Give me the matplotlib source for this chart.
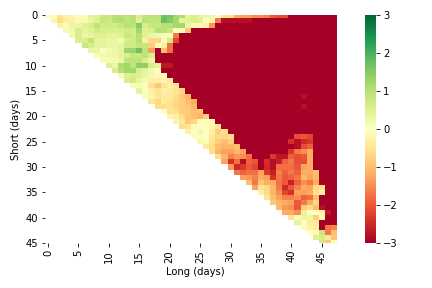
import numpy as np
import matplotlib
matplotlib.use('Agg')
import matplotlib.pyplot as plt

n_rows = 46
n_cols = 48
floor_value = -3

# values read row by row from the diagonal; cells past the end of a list sit at the floor
row_00 = [-.1, -.05, -.55, -.3, -.25, -.1, .1, .4, .5, .8, .8, 1, 1, .9, 1, .6, .9, .9, .9, 1.7, 1.6, 1.2, 1.1, .4, .6, .4, .3, .3, 0, -.5, -.6, -1.2, -1.3, -1.3, -1.5, -1.5, -1.6, -2, -2.1, -2.1]
row_01 = [.15, -.65, -.35, -.3, -.15, .1, .35, .5, .85, .75, 1, 1.05, .9, 1, .5, .95, .9, .9, 1.75, 1.5, 1.2, .4, .5, .6, .5, 0, -.2, -1.7, -2.8, -2.8, -2.8, -2.8, -2.8]
row_02 = [-.3, .05, .3, .3, .5, .6, .9, .7, .7, .7, .8, 1, .9, 1.5, .6, .8, .8, 1, 1, 1.2, 1.2, .3, .1, -.1, -.3, -1.4]
row_03 = [-.2, .2, .6, .4, .5, .7, .6, .6, .6, .6, .7, .7, 1.2, .5, .6, 1, 1, .8, .05, .05, -.9]
row_04 = [.2, .6, .3, .35, .5, .5, .4, .4, .5, .8, .7, 1, .5, .3, .2, .1, .05, -1.7]
row_05 = [.6, .6, .9, .4, .4, .3, .3, .15, .6, .7, 1, -.3, -.7, -.7, .1, .7, -2.2]
row_06 = [.8, .6, .4, .4, .3, .3, .35, .7, .7, .85, .8, -.8, -.05, -.3, -1.8]
row_07 = [.3, .3, 0, .2, .3, .4, 1.3, 1.3, 1.7, .9, -1.3, -3, -1, -1.8]
row_08 = [-.1, .2, .25, .25, .4, .6, .8, .8, .9, .6]
row_09 = [.1, .15, .2, .3, .9, .9, .9, .6, .3]
row_10 = [.5, .3, 1.1, 1.2, .9, 1.4, 1.4, .6, .4, -2.7, -2.7]
row_11 = [.6, 1, 1.2, 1.2, .6, .4, .2, 0]
row_12 = [.15, .5, .6, .5, .35, .2, -.1, 0]
row_13 = [.6, .7, .35, .15, -.3, -.3, -.2, -.4]
row_14 = [.1, .1, .05, -.6, -.9, -.5, -.3, -.5]
row_15 = [.4, .05, -.3, -.5, -.3, -.4, -.5, -.7]
row_16 = [.05, -.2, -.5, -.4, -.4, -.6, -.9, -1.1]
row_17 = [-.5, -.7, -.4, -.5, -.7, -.8, -1, -1.2]
row_18 = [-.6, -.6, -.5, -.7, -.8, -.9, -1.1]
row_19 = [0, -.5, -.5, -.8, -.85, -1, -.9]
row_20 = [-.2, -.3, -.6, -.9, -1, -1.1, -.8]
row_21 = [-.25, -.4, -.9, -.7, -.1, 0, -.1]
row_22 = [-.6, -.5, -.1, 0, 0, -.2, -.5]
row_23 = [-.3, 0, .2, 0, -.3, -.8, -.6]
row_24 = [.05, .05, 0, -.4, -.7, -.7, -.6, -3, -3, -3, -3, -3, -3, -3, -3, -3, -3, -2.1, -2, -2.2]
row_25 = [-.2, -.1, -.5, -.8, -1, -.8, -3, -3, -3, -3, -3, -3, -3, -3, -3, -2.4, -2.8, -2.5, -2.3]
row_26 = [-.4, -.6, -1, -1.1, -1.1, -1, -3, -3, -3, -3, -3, -3, -3, -3, -3, -2.8, -2.1, -1.9]
row_27 = [-.6, -1.1, -1.3, -1.3, -1.1, -1.3, -3, -3, -3, -3, -3, -3, -3, -2.3, -1.7, -1.5, -1.2]
row_28 = [-.6, -1.1, -1.6, -1.4, -1.5, -1.8, -3, -3, -3, -2.3, -2.7, -2.7, -1.9, -2.1, -2, -1.2]
row_29 = [-1.3, -2.4, -1.8, -2.8, -1.9, -2, -3, -2.4, -2.8, -2.6, -1.9, -1.7, -2.1, -2.1, -1.2]
row_30 = [-1.4, -2.5, -2.3, -2, -2.2, -3, -2.5, -2.8, -1.8, -1.8, -1.8, -2, -1.3, -1.2]
row_31 = [-1.7, -1.9, -1.8, -1.8, -1.3, -2.3, -2.6, -1.6, -1.9, -1.7, -1.9, -1.2, -1.2, -1]
row_32 = [-1.3, -1.4, -1.6, -1.2, -1.3, -2.4, -1.7, -2, -1.9, -1.7, -1.1, -1.3, -1.1]
row_33 = [-1, -1.7, -.9, -1.2, -1.2, -1.8, -2, -2.6, -1.9, -1.5, -1.7, -1.2]
row_34 = [-1.3, -.5, -.7, -1.1, -1.7, -2.5, -2, -1.6, -1.2, -1.3, -.7, -.6]
row_35 = [-.3, -.7, -1.1, -1.5, -2.2, -2.4, -1.3, -1.3, -1.2, -.6, -.3]
row_36 = [-.5, -1, -1.3, -1.6, -1.6, -1.5, -1.9, -1.8, -1]
row_37 = [-.9, -1.1, -1.2, -1.3, -2, -1.7, -1.2, -.7]
row_38 = [-1.1, -1.4, -1.5, -2, -.8, -.6, -1, -2.8]
row_39 = [-1.2, -1.2, -1.5, -.4, 0, 0, -.2, -2.7]
row_40 = [-.5, .1, .3, .3, -.8, -.1]
row_41 = [.4, 0, -.4, -.4]
row_42 = [0, -.3, -.35, -3, -1.7, -1.6]
row_43 = [0, -.1, .8, -1.7, -1]
row_44 = [.5, .6, -.4, -.9]
row_45 = [.7, -.9, -.1]

rows = [row_00, row_01, row_02, row_03, row_04, row_05, row_06, row_07, row_08, row_09,
        row_10, row_11, row_12, row_13, row_14, row_15, row_16, row_17, row_18, row_19,
        row_20, row_21, row_22, row_23, row_24, row_25, row_26, row_27, row_28, row_29,
        row_30, row_31, row_32, row_33, row_34, row_35, row_36, row_37, row_38, row_39,
        row_40, row_41, row_42, row_43, row_44, row_45]

# two slightly lighter cells inside the saturated block
spot_rows = [16, 18]
spot_cols = [42, 42]
spot_values = [-2.8, -2.8]

x_tick_labels = list(range(0, 46, 5))
y_tick_labels = list(range(0, 46, 5))
cbar_ticks = [-3, -2, -1, 0, 1, 2, 3]

sharpe = np.full((n_rows, n_cols), np.nan)
for i, row in enumerate(rows):
    sharpe[i, i:] = floor_value
    sharpe[i, i:i + len(row)] = row
sharpe[spot_rows, spot_cols] = spot_values

W, H = 432, 288
fig = plt.figure(figsize=(W / 72, H / 72), dpi=72)
ax = fig.add_axes([45 / W, 1 - 243 / H, 292 / W, 228 / H])
cax = fig.add_axes([365 / W, 1 - 243 / H, 11 / W, 228 / H])

mesh = ax.pcolormesh(np.arange(n_cols + 1), np.arange(n_rows + 1), sharpe,
                     cmap='RdYlGn', vmin=-3, vmax=3)
# top and bottom rows are cut in half in the reference
ax.set_ylim(n_rows - 0.5, 0.5)
ax.set_xlim(0, n_cols)
for side in ax.spines.values():
    side.set_visible(False)

ax.set_xticks(np.array(x_tick_labels) + 0.5)
ax.set_xticklabels(x_tick_labels, rotation=90)
ax.set_yticks(np.array(y_tick_labels) + 0.5)
ax.set_yticklabels(y_tick_labels, rotation=0)
ax.set_xlabel('Long (days)')
ax.xaxis.label.set_x(150 / 292)
ax.set_ylabel('Short (days)')

cbar = fig.colorbar(mesh, cax=cax)
cbar.set_ticks(cbar_ticks)
cbar.outline.set_visible(False)

fig.savefig('out.png', dpi=72, facecolor='white')
